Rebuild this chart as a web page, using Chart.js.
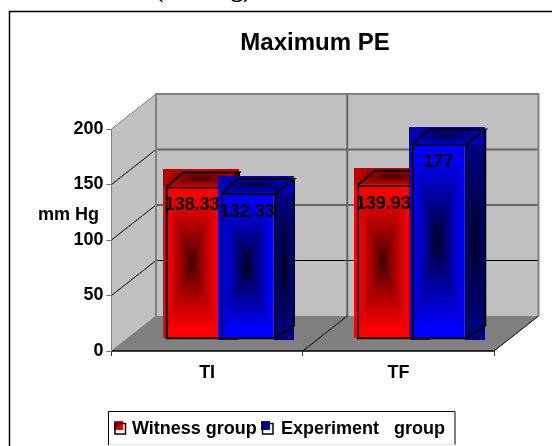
<!DOCTYPE html>
<html>
<head>
<meta charset="utf-8">
<style>html,body{margin:0;padding:0;background:#fff;overflow:hidden}canvas{display:block}</style>
<script src="https://cdn.jsdelivr.net/npm/chart.js@4"></script>
</head>
<body>
<canvas id="c" width="552" height="446"></canvas>
<script>
const categories = ['TI', 'TF'];
const witnessValues = [138.33, 139.93];
const experimentValues = [132.33, 177];
const witnessLabel = 'Witness group';
const experimentLabel = 'Experiment   group';
const witnessRgb = [255, 0, 0];
const experimentRgb = [0, 0, 255];
const yTicks = [0, 50, 100, 150, 200];
const FONT = '"Liberation Sans", Arial, sans-serif';

// depth of the whole plot box, and of the bars
const WALL = {dx: 44.5, dy: -35};
const BAR_SHIFT = {dx: 13.4, dy: -11};
const BAR_DEPTH = {dx: 18.5, dy: -15};

function pathGradient(ctx, x, y, w, h, rgb, edge, centre) {
  const W = Math.max(1, Math.round(w)), H = Math.max(1, Math.round(h));
  const off = document.createElement('canvas');
  off.width = W; off.height = H;
  const oc = off.getContext('2d');
  const img = oc.createImageData(W, H);
  for (let j = 0; j < H; j++) {
    for (let i = 0; i < W; i++) {
      const t = Math.max(Math.abs((i + .5) / W - .5), Math.abs((j + .5) / H - .5)) * 2;
      const f = centre + (edge - centre) * Math.pow(Math.min(1, t / .9), .75);
      const k = (j * W + i) * 4;
      img.data[k] = rgb[0] * f; img.data[k + 1] = rgb[1] * f; img.data[k + 2] = rgb[2] * f; img.data[k + 3] = 255;
    }
  }
  oc.putImageData(img, 0, 0);
  ctx.drawImage(off, x, y, w, h);
}

function line(ctx, pts, color, width) {
  ctx.beginPath();
  pts.forEach((p, i) => i ? ctx.lineTo(p[0], p[1]) : ctx.moveTo(p[0], p[1]));
  ctx.strokeStyle = color; ctx.lineWidth = width; ctx.stroke();
}

function drawSeries(chart, index) {
  const ctx = chart.ctx, rgb = chart.data.datasets[index].faceRgb;
  const meta = chart.getDatasetMeta(index);
  const ddx = BAR_DEPTH.dx, ddy = BAR_DEPTH.dy;
  ctx.save();
  ctx.translate(BAR_SHIFT.dx, BAR_SHIFT.dy);
  meta.data.forEach(bar => {
    const L = bar.x - bar.width / 2, R = bar.x + bar.width / 2, T = bar.y, B = bar.base;
    pathGradient(ctx, R - 2, T, ddx + 2, B - T, rgb, .5, .08);
    pathGradient(ctx, L - 2.5, T + ddy - 2, bar.width + ddx + 2, -ddy + 2, rgb, .75, .2);
    ctx.fillStyle = '#808080';
    ctx.fillRect(L, B - 2, bar.width, 1);
    pathGradient(ctx, L - 2.5, T - .5, bar.width + 1.5, B - T - 1, rgb, 1, index ? .06 : .2);
    ctx.fillStyle = '#e8e8e8';
    ctx.fillRect(R - 2, T + 1, 1, B - T - 2);
  });
  meta.controller.draw();
  meta.data.forEach(bar => {
    const L = bar.x - bar.width / 2, R = bar.x + bar.width / 2, T = bar.y + 1, B = bar.base - 1;
    line(ctx, [[L, T], [L + ddx - 1, T + ddy], [R + ddx, T + ddy], [R - 1, T]], '#000', 2);
    line(ctx, [[R + ddx, T + ddy], [R + ddx, B + ddy + 2], [R - 1, B]], '#000', 2);
  });
  ctx.restore();
}

const boxPlugin = {
  id: 'box3d',
  beforeDraw(chart) {
    const ctx = chart.ctx, xs = chart.scales.x, ys = chart.scales.y;
    const l = xs.left, r = xs.right, b = ys.getPixelForValue(0), t = ys.getPixelForValue(200);
    const dx = WALL.dx, dy = WALL.dy;
    ctx.save();
    ctx.fillStyle = '#fff'; ctx.fillRect(0, 0, 552, 446);
    // outer frame
    line(ctx, [[9.5, 446], [9.5, 11.5], [552, 11.5]], '#000', 1.5);
    // walls
    ctx.fillStyle = '#c0c0c0';
    ctx.fillRect(l + dx, t + dy, r - l, b - t);
    ctx.beginPath(); ctx.moveTo(l, t); ctx.lineTo(l + dx, t + dy); ctx.lineTo(l + dx, b + dy); ctx.lineTo(l, b); ctx.closePath(); ctx.fill();
    // floor
    ctx.fillStyle = '#808080';
    ctx.beginPath(); ctx.moveTo(l, b); ctx.lineTo(l + dx, b + dy); ctx.lineTo(r + dx, b + dy); ctx.lineTo(r, b); ctx.closePath(); ctx.fill();
    // gridlines
    yTicks.forEach(v => {
      if (v === 0) return;
      const y = ys.getPixelForValue(v);
      const dark = v === 50;
      line(ctx, [[l, y], [l + dx, y + dy], [r + dx, y + dy]], v === 200 ? '#808080' : '#000', 1);
      if (!dark && v !== 200) line(ctx, [[l + dx, y + dy], [r + dx, y + dy]], '#666', 2);
    });
    const m = xs.getPixelForTick(0) + (xs.getPixelForTick(1) - xs.getPixelForTick(0)) / 2;
    line(ctx, [[m + dx, t + dy], [m + dx, b + dy]], '#666', 2);
    line(ctx, [[m, b], [m + dx, b + dy]], '#000', 1);
    // wall edges
    line(ctx, [[l + dx, b + dy], [l + dx, t + dy], [r + dx, t + dy], [r + dx, b + dy]], '#808080', 2);
    line(ctx, [[l, b], [l + dx, b + dy]], '#808080', 1);
    line(ctx, [[r, b], [r + dx, b + dy]], '#000', 1);
    line(ctx, [[l, b], [r, b]], '#000', 1.5);
    ctx.restore();
  },
  beforeDatasetsDraw(chart) {
    const ctx = chart.ctx;
    // first series underneath, second on top of it
    chart.data.datasets.forEach((ds, i) => drawSeries(chart, i));
    ctx.save();
    ctx.font = 'bold 18px ' + FONT;
    ctx.fillStyle = '#000';
    ctx.textAlign = 'center';
    ctx.textBaseline = 'middle';
    chart.data.datasets.forEach((ds, i) => {
      chart.getDatasetMeta(i).data.forEach((bar, j) => {
        ctx.fillText(String(ds.data[j]), bar.x + BAR_SHIFT.dx - 1, bar.y + BAR_SHIFT.dy + 19);
      });
    });
    // clipped line of text above the frame
    ctx.font = 'bold 25px "Liberation Serif", serif';
    ctx.textAlign = 'left'; ctx.textBaseline = 'alphabetic';
    ctx.fillText('(mm Hg)', 155, -3.5);
    // title and axis name
    ctx.font = 'bold 24px ' + FONT;
    ctx.textAlign = 'center';
    ctx.fillText('Maximum PE', 315, 50);
    ctx.font = 'bold 18px ' + FONT;
    ctx.textAlign = 'left';
    ctx.fillText('mm Hg', 38, 220);
    // legend
    ctx.fillStyle = '#fff'; ctx.fillRect(108.5, 411.5, 346, 33);
    line(ctx, [[108.5, 445], [108.5, 411.5], [455, 411.5], [455, 445]], '#000', 1);
    line(ctx, [[109, 444.5], [455, 444.5]], '#e8e8e8', 1);
    const entries = [[113.5, 132, witnessLabel, witnessRgb], [261, 281, experimentLabel, experimentRgb]];
    entries.forEach(e => {
      ctx.fillStyle = '#fff'; ctx.fillRect(e[0] + 1.5, 423.5, 10.5, 10.5);
      pathGradient(ctx, e[0], 421, 9, 9, e[3], 1, .5);
      ctx.lineWidth = 1.5; ctx.strokeStyle = '#000';
      ctx.strokeRect(e[0] + 1.5, 423.5, 10.5, 10.5);
      ctx.fillStyle = '#000';
      ctx.fillText(e[2], e[1], 434);
    });
    ctx.restore();
    return false;
  }
};

new Chart(document.getElementById('c'), {
  type: 'bar',
  data: {
    labels: categories,
    datasets: [
      {label: witnessLabel, data: witnessValues, faceRgb: witnessRgb, backgroundColor: 'rgba(255,0,0,0)', borderColor: '#000', borderWidth: 2, borderSkipped: false},
      {label: experimentLabel, data: experimentValues, faceRgb: experimentRgb, backgroundColor: 'rgba(0,0,255,0)', borderColor: '#000', borderWidth: 2, borderSkipped: false}
    ]
  },
  options: {
    responsive: false,
    animation: false,
    devicePixelRatio: 1,
    layout: {padding: {left: 0, right: 58, top: 129, bottom: 0}},
    datasets: {bar: {categoryPercentage: .575, barPercentage: 1}},
    plugins: {legend: {display: false}, title: {display: false}, tooltip: {enabled: false}},
    scales: {
      x: {
        afterFit(s) { s.height = 95; },
        border: {display: false},
        grid: {drawOnChartArea: false, drawTicks: true, tickLength: 5, color: '#333'},
        ticks: {color: '#000', padding: 6, font: {family: FONT, size: 18, weight: 'bold'}}
      },
      y: {
        min: 0, max: 200,
        afterFit(s) { s.width = 111.5; },
        border: {display: true, color: '#808080', width: 1},
        grid: {drawOnChartArea: false, drawTicks: true, tickLength: 5, color: '#666'},
        ticks: {stepSize: 50, color: '#000', padding: 3, font: {family: FONT, size: 18, weight: 'bold'}}
      }
    }
  },
  plugins: [boxPlugin]
});
</script>
</body>
</html>
